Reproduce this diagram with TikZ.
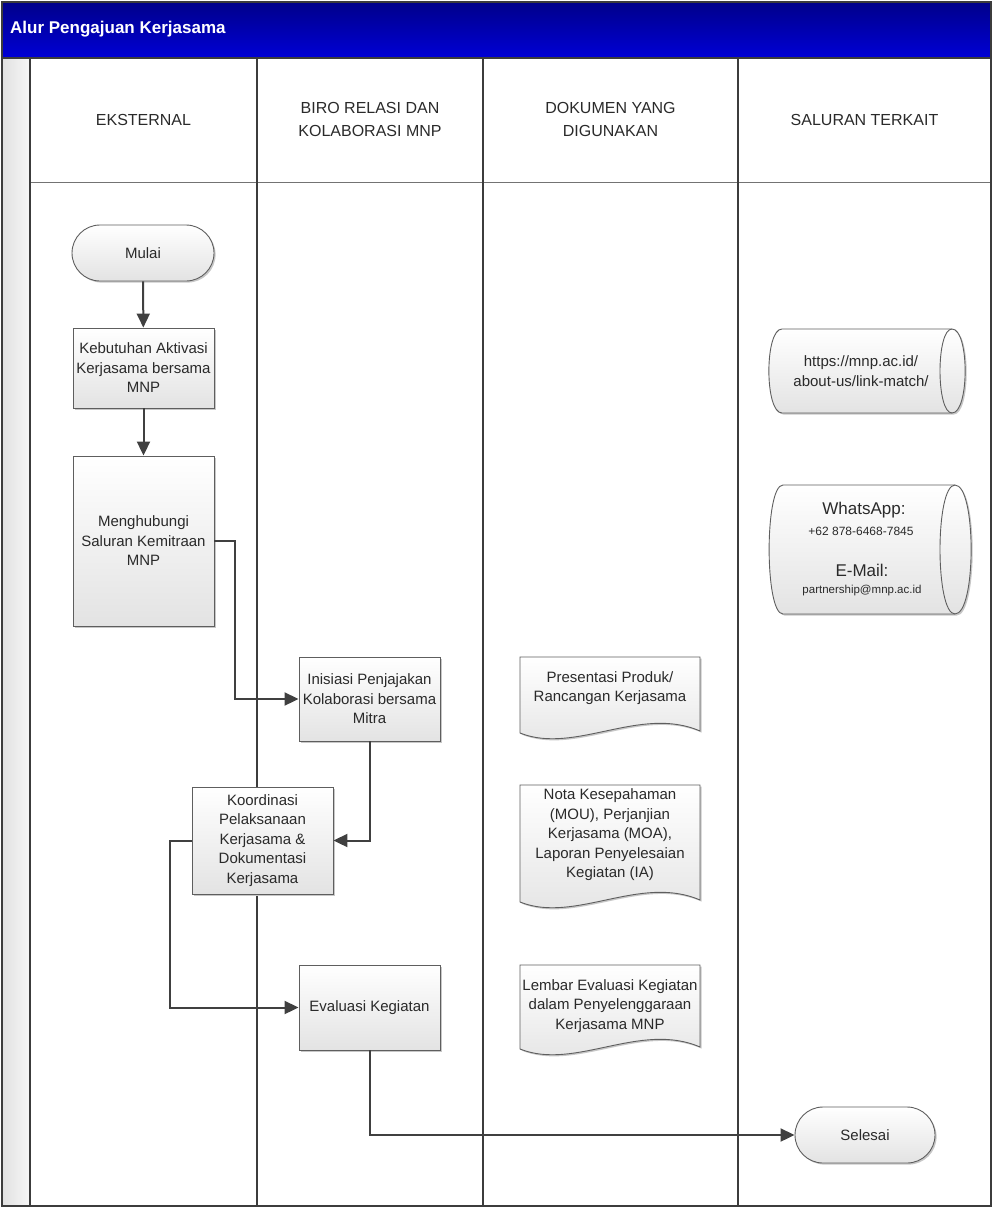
\documentclass[tikz,border=0pt]{standalone}
\usepackage{fontspec}
\setmainfont{Liberation Sans}
\usetikzlibrary{arrows.meta,shadows,calc}
\definecolor{lanec}{HTML}{3C3C3C}
\definecolor{conc}{HTML}{404040}
\definecolor{boxb}{HTML}{5E5E5E}
\definecolor{titletop}{HTML}{00008A}
\definecolor{titlebot}{HTML}{0000D6}
\definecolor{txt}{HTML}{2A2A2A}
\tikzset{
  shad/.style={drop shadow={shadow xshift=1.6pt,shadow yshift=-1.6pt,fill=black!22,opacity=1}},
  gfill/.style={top color=white,bottom color=black!11},
  proc/.style={draw=boxb,line width=0.9pt,gfill,shad,minimum width=141pt,align=center,
    text=txt,font=\fontsize{15}{19.5}\selectfont,inner sep=2pt},
  term/.style={proc,rounded corners=28pt,minimum width=142pt,minimum height=56pt},
  shapeline/.style={draw=boxb,line width=0.9pt,gfill,shad},
  lbl/.style={align=center,text=txt,font=\fontsize{15}{19.5}\selectfont,inner sep=0pt},
  big/.style={text=txt,inner sep=0pt,font=\fontsize{17}{20}\selectfont},
  small/.style={text=txt,inner sep=0pt,font=\fontsize{12}{14}\selectfont},
  conn/.style={draw=conc,line width=2pt,-{Triangle[length=14pt,width=13pt]}},
  hdr/.style={align=center,text=txt,font=\fontsize{16}{23}\selectfont,inner sep=0pt},
  lane/.style={draw=lanec,line width=1.2pt},
}
\begin{document}
\begin{tikzpicture}[x=1pt,y=-1pt]
\useasboundingbox (0,0) rectangle (994,1208);
% title bar
\shade[top color=titletop,bottom color=titlebot] (2,2) rectangle (991,58);
\node[anchor=west,text=white,font=\fontsize{17}{20}\selectfont\bfseries,inner sep=0pt] (title) at (10,29) {Alur Pengajuan Kerjasama};
% left strip
\shade[left color=black!12,right color=black!3] (2,58) rectangle (30,1206);
% lanes
\draw[draw=black!55,line width=1pt] (30,182) -- (991,182);
\draw[lane] (2,58) -- (991,58);
\foreach \x in {30,257,483,738} {\draw[lane] (\x,58) -- (\x,1206);}
\draw[lane] (2,2) rectangle (991,1206);
% headers
\node[hdr] (h1) at (143.5,120) {EKSTERNAL};
\node[hdr] (h2) at (370,119) {BIRO RELASI DAN\\KOLABORASI MNP};
\node[hdr] (h3) at (610.5,119) {DOKUMEN YANG\\DIGUNAKAN};
\node[hdr] (h4) at (864.5,120) {SALURAN TERKAIT};
% process nodes
\node[term] (mulai) at (143,253) {Mulai};
\node[proc,minimum height=80pt] (keb) at (143.5,368) {Kebutuhan Aktivasi\\Kerjasama bersama\\MNP};
\node[proc,minimum height=170pt] (meng) at (143.5,541) {Menghubungi\\Saluran Kemitraan\\MNP};
\node[proc,minimum height=84pt] (inis) at (369.5,699) {Inisiasi Penjajakan\\Kolaborasi bersama\\Mitra};
\node[proc,minimum height=107pt] (koor) at (262.5,840.5) {Koordinasi\\Pelaksanaan\\Kerjasama \&\\Dokumentasi\\Kerjasama};
\node[proc,minimum height=85pt] (eval) at (369.5,1007.5) {Evaluasi Kegiatan};
\node[term,minimum width=140pt] (sel) at (865,1135) {Selesai};
% documents
\path[shapeline] (520,657) -- (700,657) -- (700,731)
  .. controls (640,705) and (575,755) .. (520,733) -- cycle;
\node[lbl] (d1) at (610,688) {Presentasi Produk/\\Rancangan Kerjasama};
\path[shapeline] (520,785) -- (700,785) -- (700,900)
  .. controls (640,874) and (575,924) .. (520,902) -- cycle;
\node[lbl] (d2) at (610,835) {Nota Kesepahaman\\(MOU), Perjanjian\\Kerjasama (MOA),\\Laporan Penyelesaian\\Kegiatan (IA)};
\path[shapeline] (520,965) -- (700,965) -- (700,1047)
  .. controls (640,1021) and (575,1071) .. (520,1049) -- cycle;
\node[lbl] (d3) at (610,1006) {Lembar Evaluasi Kegiatan\\dalam Penyelenggaraan\\Kerjasama MNP};
% stored data
\path[shapeline] (782,329) -- (952,329) .. controls (969.5,329) and (969.5,413) .. (952,413)
  -- (782,413) .. controls (764.5,413) and (764.5,329) .. (782,329) -- cycle;
\draw[draw=boxb,line width=0.9pt] (952,329) .. controls (936,329) and (936,413) .. (952,413);
\node[lbl] (s1) at (861,371) {https://mnp.ac.id/\\about-us/link-match/};
\path[shapeline] (783,485) -- (955,485) .. controls (976.5,485) and (976.5,614) .. (955,614)
  -- (783,614) .. controls (764.5,614) and (764.5,485) .. (783,485) -- cycle;
\draw[draw=boxb,line width=0.9pt] (955,485) .. controls (935,485) and (935,614) .. (955,614);
\node[big] (wa) at (864,510) {WhatsApp:};
\node[small] (wanum) at (861,531) {+62 878-6468-7845};
\node[big] (em) at (862,570) {E-Mail:};
\node[small,font=\fontsize{11.5}{14}\selectfont] (emaddr) at (862,591) {partnership@mnp.ac.id};
% connectors
\draw[conn] (mulai) -- (keb);
\draw[conn] (keb) -- (meng);
\draw[conn] (meng.east) -- ++(21,0) |- (inis.west);
\draw[conn] (inis.south) |- (koor.east);
\draw[conn] (koor.west) -- ++(-22,0) |- (eval.west);
\draw[conn] (eval.south) |- (sel.west);
\end{tikzpicture}
\end{document}
